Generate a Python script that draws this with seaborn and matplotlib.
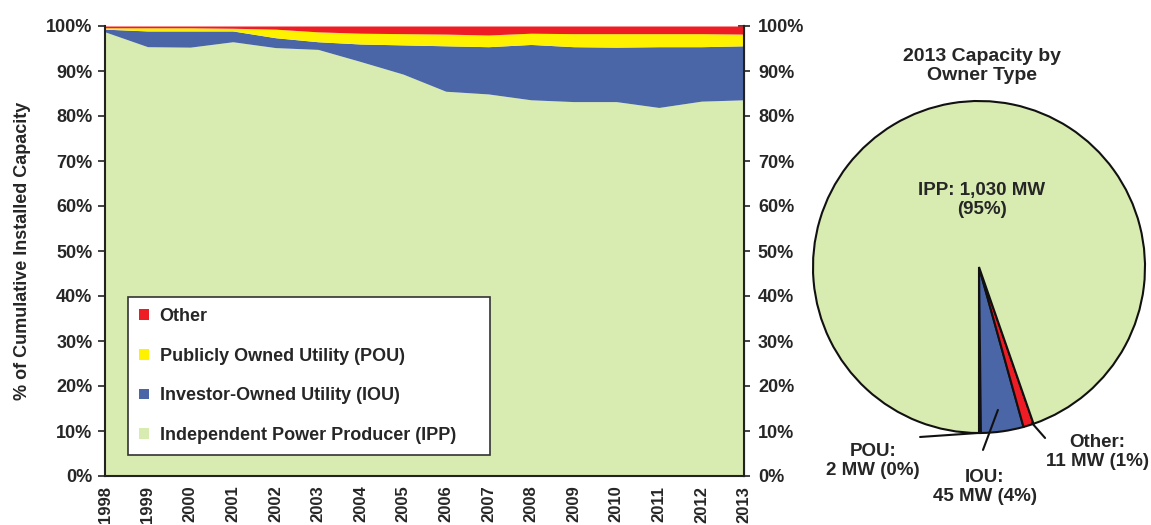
import matplotlib
matplotlib.use("Agg")
import matplotlib.pyplot as plt
import seaborn as sns
import numpy as np
from matplotlib.ticker import FuncFormatter, MultipleLocator

# ---------------- data ----------------
years = list(range(1998, 2014))
ipp_share = [98.7, 95.4, 95.3, 96.5, 95.2, 94.8, 92.1, 89.3, 85.5, 84.9, 83.6, 83.2, 83.2, 81.9, 83.3, 83.6]
iou_share = [0.6, 3.5, 3.6, 2.4, 2.2, 1.7, 3.9, 6.5, 10.1, 10.5, 12.3, 12.2, 12.1, 13.5, 12.1, 12.0]
pou_share = [0.3, 0.7, 0.7, 0.6, 1.9, 2.2, 2.4, 2.5, 2.6, 2.6, 2.5, 2.9, 3.0, 2.9, 2.9, 2.6]
other_share = [0.4, 0.4, 0.4, 0.5, 0.7, 1.3, 1.6, 1.7, 1.8, 2.0, 1.6, 1.7, 1.7, 1.7, 1.7, 1.8]

series_labels = ["Independent Power Producer (IPP)", "Investor-Owned Utility (IOU)",
                 "Publicly Owned Utility (POU)", "Other"]

pie_names = ["POU", "IOU", "Other", "IPP"]
pie_mw = [2, 45, 11, 1030]
pie_texts = ["POU:\n2 MW (0%)", "IOU:\n45 MW (4%)", "Other:\n11 MW (1%)", "IPP: 1,030 MW\n(95%)"]

# ---------------- style ----------------
sns.set_theme(style="white")
plt.rcParams["font.family"] = ["Liberation Sans", "DejaVu Sans"]
plt.rcParams["font.weight"] = "bold"

c_ipp = "#D8EBB1"
c_iou = "#4A66A6"
c_pou = "#FFF200"
c_oth = "#EE1C25"
colors = [c_ipp, c_iou, c_pou, c_oth]

fig = plt.figure(figsize=(11.51, 5.25), dpi=100)
ax = fig.add_axes([105/1151, 1 - 476/525, 639/1151, 450/525])

ax.stackplot(years, ipp_share, iou_share, pou_share, other_share,
             colors=colors, labels=series_labels, linewidth=0)
ax.set_xlim(1998, 2013)
ax.set_ylim(0, 100)
ax.yaxis.set_major_locator(MultipleLocator(10))
ax.yaxis.set_major_formatter(FuncFormatter(lambda v, p: f"{v:.0f}%"))
ax.set_xticks(years)
ax.set_xticklabels([str(y) for y in years], rotation=90, fontsize=12, fontweight="bold")
ax.tick_params(axis="y", labelsize=13, direction="out", length=5, width=1.2, color="#222222", pad=4)
ax.tick_params(axis="x", direction="out", length=5, width=1.2, color="#222222", pad=2)
for lab in ax.get_yticklabels():
    lab.set_fontweight("bold")
ax.set_ylabel("% of Cumulative Installed Capacity", fontsize=13, fontweight="bold")
ax.yaxis.set_label_coords(-0.116, 0.5)

for s in ["left", "bottom", "right"]:
    ax.spines[s].set_visible(True)
    ax.spines[s].set_color("#222222")
    ax.spines[s].set_linewidth(1.5)
ax.spines["top"].set_visible(False)

ax2 = ax.twinx()
ax2.set_ylim(0, 100)
ax2.yaxis.set_major_locator(MultipleLocator(10))
ax2.yaxis.set_major_formatter(FuncFormatter(lambda v, p: f"{v:.0f}%"))
ax2.tick_params(axis="y", labelsize=13, direction="inout", length=8, width=1.2, color="#222222", pad=6)
for lab in ax2.get_yticklabels():
    lab.set_fontweight("bold")
for s in ["left", "bottom", "top"]:
    ax2.spines[s].set_visible(False)
ax2.spines["right"].set_color("#222222")
ax2.spines["right"].set_linewidth(1.5)
ax2.grid(False)
ax.grid(False)

handles, labels = ax.get_legend_handles_labels()
leg = ax.legend(handles[::-1], labels[::-1], loc="lower left",
                bbox_to_anchor=(0.036, 0.047, 0.566, 0.377), mode="expand",
                fontsize=13, frameon=True, fancybox=False, framealpha=1,
                edgecolor="#333333", handlelength=0.55, handleheight=0.55,
                handletextpad=0.6, labelspacing=1.25, borderpad=0.6, borderaxespad=0)
leg.get_frame().set_linewidth(1.2)
for t in leg.get_texts():
    t.set_fontweight("bold")
leg.set_zorder(10)
ax.set_zorder(ax2.get_zorder() + 1)
ax.patch.set_visible(False)

# ---------------- pie ----------------
cx, cy, r = 979, 267, 166
pax = fig.add_axes([(cx - r)/1151, 1 - (cy + r)/525, 2*r/1151, 2*r/525])
wedges, _ = pax.pie(pie_mw, colors=[c_pou, c_iou, c_oth, c_ipp], startangle=270,
                    counterclock=True,
                    wedgeprops=dict(edgecolor="#111111", linewidth=1.5))
for w in wedges:
    w.set_clip_on(False)
pax.set_xlim(-1, 1)
pax.set_ylim(-1, 1)
pax.set_aspect("equal")
pax.axis("off")

pax.text(0.018, 1.211, "2013 Capacity by\nOwner Type", ha="center", va="center",
         fontsize=14, fontweight="bold", linespacing=1.1)
pax.text(0.018, 0.404, pie_texts[3], ha="center", va="center", fontsize=13.5,
         fontweight="bold", linespacing=1.1)
pax.text(-0.639, -1.169, pie_texts[0], ha="center", va="center", fontsize=13.5,
         fontweight="bold", linespacing=1.1)
pax.text(0.036, -1.325, pie_texts[1], ha="center", va="center", fontsize=13.5,
         fontweight="bold", linespacing=1.1)
pax.text(0.711, -1.114, pie_texts[2], ha="center", va="center", fontsize=13.5,
         fontweight="bold", linespacing=1.1)

for (x0, y0), (x1, y1) in [((-0.355, -1.024), (-0.006, -1.0)),
                           ((0.024, -1.102), (0.114, -0.861)),
                           ((0.398, -1.030), (0.319, -0.940))]:
    pax.annotate("", xy=(x1, y1), xytext=(x0, y0),
                 arrowprops=dict(arrowstyle="-", lw=1.5, color="#111111",
                                 shrinkA=0, shrinkB=0),
                 annotation_clip=False)

fig.savefig("out.png", dpi=100, facecolor="white")
